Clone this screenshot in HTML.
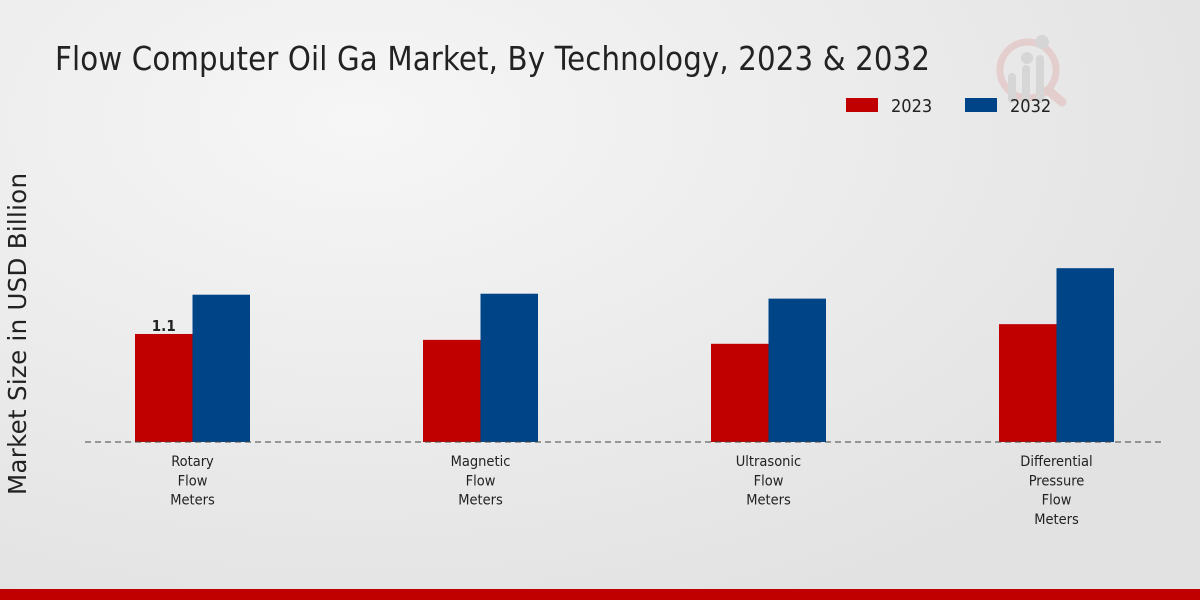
<!DOCTYPE html>
<html><head><meta charset="utf-8"><style>
body{margin:0;width:1200px;height:600px;overflow:hidden;background:radial-gradient(ellipse at 30% 20%,#f6f6f6,#e2e2e2 80%);font-family:"DejaVu Sans Condensed","DejaVu Sans","Liberation Sans",sans-serif;}
svg{position:absolute;left:0;top:0}
</style></head><body>
<svg width="1200" height="600" id="chart">
<text x="55" y="70" font-size="32.5" fill="#222" textLength="875">Flow Computer Oil Ga Market, By Technology, 2023 &amp; 2032</text>
<g opacity="0.55">
<circle cx="1028" cy="70" r="28" fill="none" stroke="#e2b8b8" stroke-width="7"/>
<line x1="1048" y1="90" x2="1062" y2="102" stroke="#e2b8b8" stroke-width="9" stroke-linecap="round"/>
<rect x="1008" y="73" width="8" height="30" rx="4" fill="#c8c8c8"/>
<rect x="1022" y="65" width="8" height="38" rx="4" fill="#c8c8c8"/>
<rect x="1036" y="55" width="8" height="48" rx="4" fill="#c8c8c8"/>
<circle cx="1042" cy="42" r="7" fill="#c8c8c8"/><circle cx="1027" cy="58" r="6" fill="#c8c8c8"/>
</g>
<g>
<rect x="846" y="98" width="32" height="14" fill="#c00000"/>
<text x="891" y="112" font-size="18" fill="#222">2023</text>
<rect x="965" y="98" width="32" height="14" fill="#004488"/>
<text x="1010" y="112" font-size="18" fill="#222">2032</text>
</g>
<text transform="translate(26,334) rotate(-90)" text-anchor="middle" font-size="24.5" textLength="322" fill="#222" font-family="DejaVu Sans,sans-serif">Market Size in USD Billion</text>
<g id="bars"></g>
<line x1="85" y1="442" x2="1165" y2="442" stroke="#444" stroke-dasharray="6,4"/>
<g id="labels"></g>
<rect x="0" y="589" width="1200" height="11" fill="#c00000"/>
</svg>
<script>
const categories=[["Rotary","Flow","Meters"],["Magnetic","Flow","Meters"],["Ultrasonic","Flow","Meters"],["Differential","Pressure","Flow","Meters"]];
const values2023=[1.1,1.04,1.0,1.2];
const values2032=[1.5,1.51,1.46,1.77];
const NS="http://www.w3.org/2000/svg";
const base=442,scale=98.2,band=288,start=48.5,bw=57.5;
const x=i=>start+band*i+band/2;
const y=v=>base-v*scale;
const bars=document.getElementById('bars'),labels=document.getElementById('labels');
categories.forEach((c,i)=>{
  [[values2023,'#c00000',-bw,'2023'],[values2032,'#004488',0,'2032']].forEach(([arr,col,off,s])=>{
    const r=document.createElementNS(NS,'rect');
    r.setAttribute('x',x(i)+off);r.setAttribute('y',y(arr[i]));
    r.setAttribute('width',bw);r.setAttribute('height',base-y(arr[i]));
    r.setAttribute('fill',col);
    
    
    bars.appendChild(r);
  });
  const t=document.createElementNS(NS,'text');
  t.setAttribute('text-anchor','middle');t.setAttribute('font-size','14.5');t.setAttribute('fill','#222');
  
  
  c.forEach((line,k)=>{const ts=document.createElementNS(NS,'tspan');ts.setAttribute('x',x(i));ts.setAttribute('y',466+k*19.3);ts.textContent=line;t.appendChild(ts);});
  labels.appendChild(t);
});
const vl=document.createElementNS(NS,'text');
vl.setAttribute('x',x(0)-bw/2);vl.setAttribute('y',y(values2023[0])-3);
vl.setAttribute('text-anchor','middle');vl.setAttribute('font-size','15');vl.setAttribute('font-weight','bold');vl.setAttribute('fill','#222');


vl.textContent=values2023[0];
labels.appendChild(vl);
</script>
</body></html>
